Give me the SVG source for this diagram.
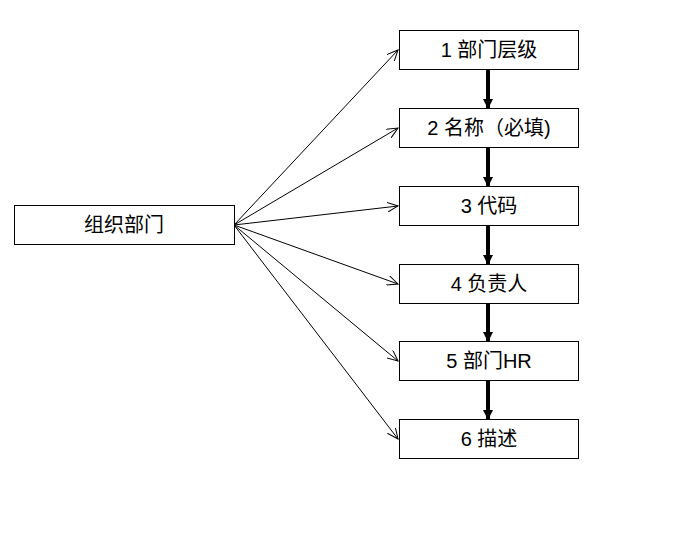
<svg xmlns="http://www.w3.org/2000/svg" width="689" height="543" viewBox="0 0 689 543">
<style>
.b{fill:#fff;stroke:#000;stroke-width:1}
.t{font-family:"Liberation Sans","Noto Sans CJK SC",sans-serif;font-size:20px;text-anchor:middle;dominant-baseline:central;fill:#000}
.thin{stroke:#000;stroke-width:1;fill:none;marker-end:url(#o)}
.thick{stroke:#000;stroke-width:4;fill:none;marker-end:url(#f)}
</style>
<defs>
<marker id="o" markerWidth="12" markerHeight="10" refX="11" refY="5" orient="auto" markerUnits="userSpaceOnUse"><path d="M0,0 L11,5 L0,10" fill="none" stroke="#000" stroke-width="1"/></marker>
<marker id="f" markerWidth="10" markerHeight="10" refX="9" refY="5" orient="auto" markerUnits="userSpaceOnUse"><path d="M0,0 L10,5 L0,10 Z" fill="#000"/></marker>
</defs>
<g id="connectors">
<path class="thin" d="M234,225 L398,50"/>
<path class="thin" d="M234,225 L398,128"/>
<path class="thin" d="M234,225 L398,206"/>
<path class="thin" d="M234,225 L398,284"/>
<path class="thin" d="M234,225 L398,361"/>
<path class="thin" d="M234,225 L398,439"/>
<path class="thick" d="M488,69 L488,108"/>
<path class="thick" d="M488,147 L488,186"/>
<path class="thick" d="M488,225 L488,264"/>
<path class="thick" d="M488,303 L488,341"/>
<path class="thick" d="M488,380 L488,419"/>
</g>
<g id="n0"><rect class="b" x="14.5" y="205.5" width="220" height="39"/><text class="t" x="124" y="225">组织部门</text></g>
<g id="n1"><rect class="b" x="399.5" y="30.5" width="179" height="39"/><text class="t" x="489" y="50">1 部门层级</text></g>
<g id="n2"><rect class="b" x="399.5" y="108.5" width="179" height="39"/><text class="t" x="489" y="128">2 名称（必填)</text></g>
<g id="n3"><rect class="b" x="399.5" y="186.5" width="179" height="39"/><text class="t" x="489" y="206">3 代码</text></g>
<g id="n4"><rect class="b" x="399.5" y="264.5" width="179" height="39"/><text class="t" x="489" y="284">4 负责人</text></g>
<g id="n5"><rect class="b" x="399.5" y="341.5" width="179" height="39"/><text class="t" x="489" y="361">5 部门HR</text></g>
<g id="n6"><rect class="b" x="399.5" y="419.5" width="179" height="39"/><text class="t" x="489" y="439">6 描述</text></g>
</svg>
